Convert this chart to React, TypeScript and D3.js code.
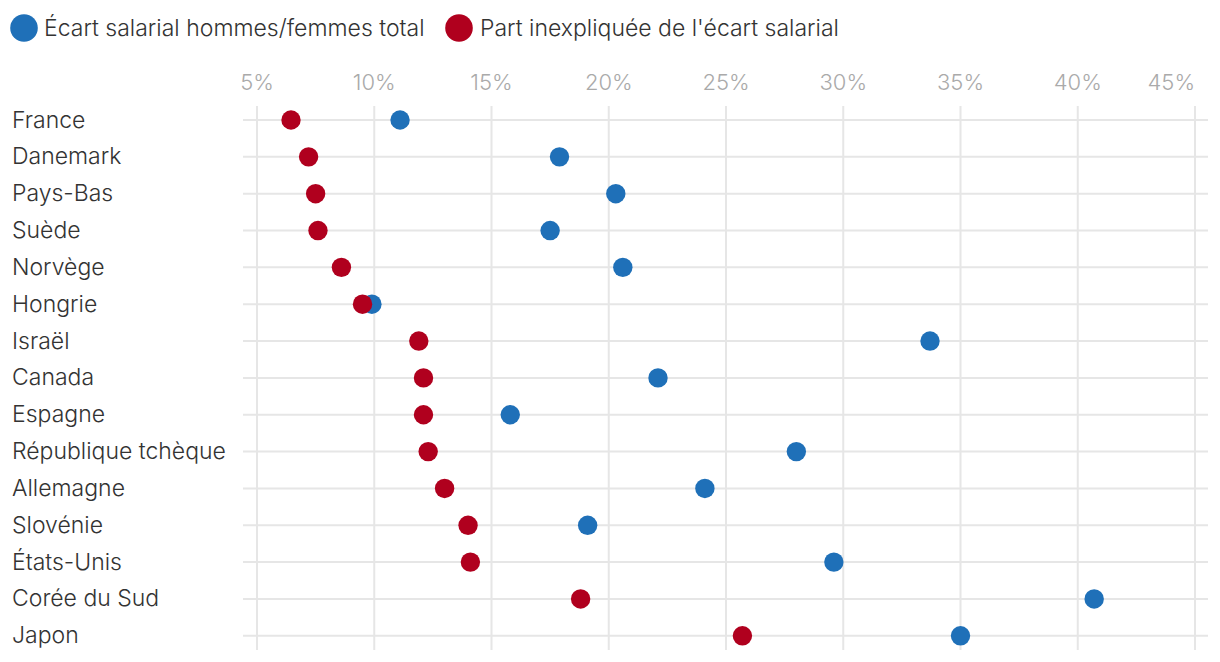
import React from "react";
import * as d3 from "d3";

const countries = [
  "France", "Danemark", "Pays-Bas", "Suède", "Norvège", "Hongrie", "Israël", "Canada",
  "Espagne", "République tchèque", "Allemagne", "Slovénie", "États-Unis", "Corée du Sud", "Japon",
];
const totalGap = [11.1, 17.9, 20.3, 17.5, 20.6, 9.9, 33.7, 22.1, 15.8, 28.0, 24.1, 19.1, 29.6, 40.7, 35.0];
const unexplainedGap = [6.45, 7.2, 7.5, 7.6, 8.6, 9.5, 11.9, 12.1, 12.1, 12.3, 13.0, 14.0, 14.1, 18.8, 25.7];
const tickValues = [5, 10, 15, 20, 25, 30, 35, 40, 45];
const seriesNames = ["Écart salarial hommes/femmes total", "Part inexpliquée de l'écart salarial"];

const BLUE = "#1f70b8";
const RED = "#b0001e";
const FONT = "Inter, Roboto, sans-serif";

export default function App() {
  const W = 1220, H = 662;
  const x = d3.scaleLinear().domain([5, 45]).range([257, 1195]);
  const y = d3.scalePoint<string>().domain(countries).range([120, 635.8]);

  return (
    <svg width={W} height={H} style={{ position: "absolute", left: 0, top: 0 }} fontFamily={FONT}>
      {/* legend */}
      <circle cx={24} cy={28} r={13.8} fill={BLUE} />
      <text x={44} y={36} fontSize={23} fontWeight={300} fill="#333">{seriesNames[0]}</text>
      <circle cx={459} cy={28} r={13.8} fill={RED} />
      <text x={480} y={36} fontSize={23} fontWeight={300} fill="#333">{seriesNames[1]}</text>

      {/* vertical grid + ticks */}
      {tickValues.map((t, i) => {
        const last = i === tickValues.length - 1;
        return (
          <g key={t}>
            <line x1={x(t)} x2={x(t)} y1={106} y2={650} stroke="#e6e6e6" strokeWidth={2} />
            <text x={x(t)} y={90} textAnchor={last ? "end" : "middle"} fontSize={22} fontWeight={300} fill="#aaa">{t}%</text>
          </g>
        );
      })}

      {/* rows */}
      {countries.map((c) => (
        <g key={c}>
          <line x1={243} x2={1208} y1={y(c)!} y2={y(c)!} stroke="#e6e6e6" strokeWidth={2} />
          <text x={12} y={y(c)! + 7.5} fontSize={23} fontWeight={300} fill="#333">{c}</text>
        </g>
      ))}

      {/* dots */}
      {countries.map((c, i) => (
        <circle key={"b" + c} cx={x(totalGap[i])} cy={y(c)!} r={9.7} fill={BLUE} />
      ))}
      {countries.map((c, i) => (
        <circle key={"r" + c} cx={x(unexplainedGap[i])} cy={y(c)!} r={9.7} fill={RED} />
      ))}
    </svg>
  );
}
